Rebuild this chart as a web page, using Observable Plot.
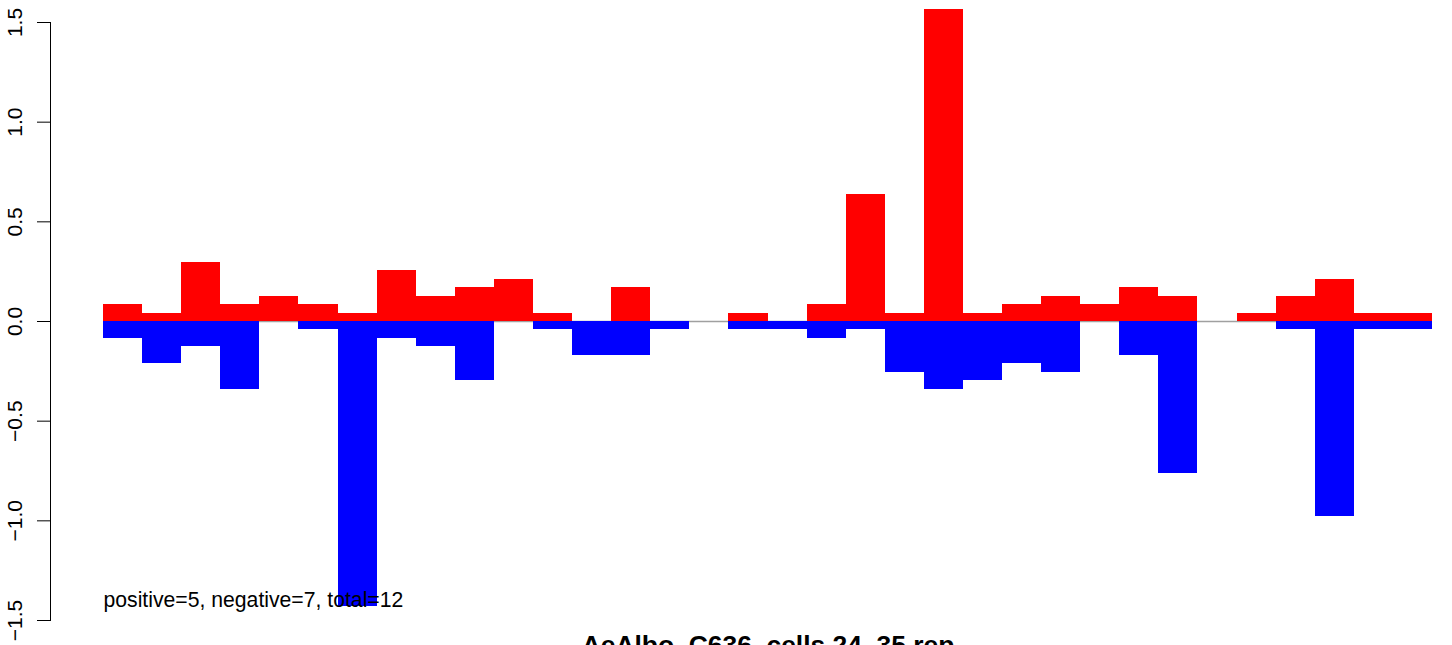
<!DOCTYPE html>
<html><head><meta charset="utf-8">
<script src="https://cdn.jsdelivr.net/npm/d3@7"></script>
<script src="https://cdn.jsdelivr.net/npm/@observablehq/plot@0.6"></script>
<style>
html,body{margin:0;padding:0;background:#fff;overflow:hidden;}
#chart{width:1452px;height:645px;overflow:hidden;}
</style></head><body><div id="chart"></div>
<script>
// bin labels (34 consecutive bins)
const bins = [1,2,3,4,5,6,7,8,9,10,11,12,13,14,15,16,17,18,19,20,21,22,23,24,25,26,27,28,29,30,31,32,33,34];
// positive (red, upward) values
const positive = [0.085,0.0425,0.2975,0.085,0.1275,0.085,0.0425,0.255,0.1275,0.17,0.2125,0.0425,0,0.17,0,0,0.0425,0,0.085,0.6375,0.0425,1.565,0.0425,0.085,0.1275,0.085,0.17,0.1275,0,0.0425,0.1275,0.2125,0.0425,0.0425];
// negative (blue, downward) magnitudes
const negative = [0.085,0.2125,0.1275,0.34,0,0.0425,1.43,0.085,0.1275,0.2975,0,0.0425,0.17,0.17,0.0425,0,0.0425,0.0425,0.085,0.0425,0.255,0.34,0.2975,0.2125,0.255,0,0.17,0.765,0,0,0.0425,0.9775,0.0425,0.0425];
const yTicks = [-1.5,-1.0,-0.5,0.0,0.5,1.0,1.5];
const annotation = "positive=5, negative=7, total=12";
const title = "AeAlbo_C636_cells 24_35 rep";

const data = bins.map((b,i)=>({bin:b, pos:positive[i], neg:-negative[i]}));

const plot = Plot.plot({
  width:1452, height:645,
  marginTop:22, marginBottom:25, marginLeft:50, marginRight:20,
  style:{background:"#fff", fontFamily:"'Liberation Sans', Arial, Helvetica, sans-serif", fontSize:"21px", color:"#000", overflow:"hidden"},
  x:{type:"linear", domain:[0, bins.length], range:[103,1432], axis:null},
  y:{domain:[-1.5,1.5], axis:null},
  marks:[
    Plot.ruleY([0], {x1:0, x2:bins.length, stroke:"#a0a0a0", strokeWidth:1.5}),
    Plot.rect(data.filter(d=>d.pos>0), {x1:d=>d.bin-1, x2:d=>d.bin, y1:0, y2:"pos", fill:"#ff0000", shapeRendering:"crispEdges"}),
    Plot.rect(data.filter(d=>d.neg<0), {x1:d=>d.bin-1, x2:d=>d.bin, y1:0, y2:"neg", fill:"#0000ff", shapeRendering:"crispEdges"}),
    Plot.frame({anchor:"left", stroke:"#000", strokeWidth:1}),
    Plot.axisY(yTicks, {anchor:"left", tickSize:13, tickPadding:16, tickRotate:-90, textAnchor:"middle", tickFormat:d3.format(".1f"), fontSize:21, label:null, stroke:"#000", strokeWidth:1, strokeOpacity:1, color:"#000"}),
    Plot.text([annotation], {x:0, y:-1.4, text:d=>d, textAnchor:"start", fontSize:21.2, fill:"#000"}),
    Plot.text([title], {x:bins.length/2, frameAnchor:"bottom", dy:33, lineAnchor:"bottom", text:d=>d, fontWeight:"bold", fontSize:26.4, fill:"#000"})
  ]
});
document.getElementById("chart").appendChild(plot);
</script></body></html>
